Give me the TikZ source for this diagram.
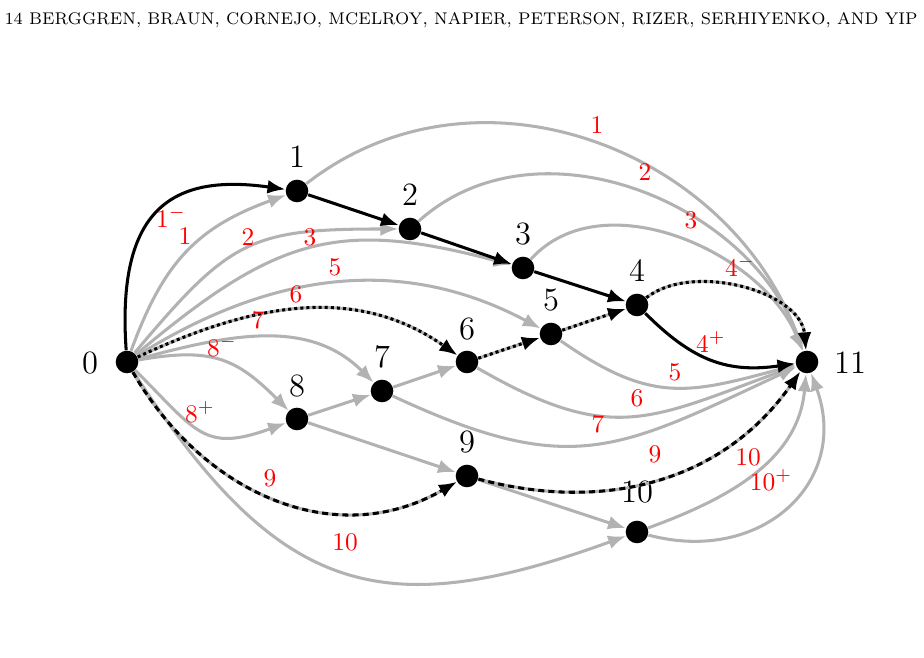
\documentclass[tikz,border=0pt]{standalone}
\usetikzlibrary{arrows.meta}
\begin{document}
\begin{tikzpicture}[x=0.3937pt,y=0.3937pt,
  vtx/.style={circle,fill=black,inner sep=0pt,minimum size=8.9pt},
  vlab/.style={font=\fontsize{12.8}{14}\selectfont,inner sep=0pt},
  elab/.style={text=red,font=\fontsize{10.3}{12}\selectfont,inner sep=0pt},
  tip/.style={-{Latex[length=7pt,width=5.5pt]}},
  ge/.style={draw=black!30,line width=1.2pt,tip},
  be/.style={draw=black,line width=1.2pt,tip},
  dote/.style={draw=black,line width=1.2pt,dash pattern=on 1.2pt off 1.2pt,tip},
  dashe/.style={draw=black,line width=1.2pt,dash pattern=on 2.4pt off 1.6pt,tip}]
\useasboundingbox (0,0) rectangle (924,658);
\node[anchor=west,inner sep=0pt] (hdr) at (4,638)
  {\resizebox{359.5pt}{4.75pt}{\fontsize{7}{8}\selectfont 14 BERGGREN, BRAUN, CORNEJO, MCELROY, NAPIER, PETERSON, RIZER, SERHIYENKO, AND YIP}};
% vertices
\node[vtx] (0) at (127,296) {};
\node[vtx] (1) at (297,467) {};
\node[vtx] (2) at (410,429) {};
\node[vtx] (3) at (523,390) {};
\node[vtx] (4) at (637,353) {};
\node[vtx] (5) at (551,324) {};
\node[vtx] (6) at (467,296) {};
\node[vtx] (7) at (382,267) {};
\node[vtx] (8) at (297,239) {};
\node[vtx] (9) at (467,182) {};
\node[vtx] (10) at (637,126) {};
\node[vtx] (11) at (807,296) {};
% vertex labels
\node[vlab] (l0) at (90,295) {0};
\node[vlab] (l1) at (297,501) {1};
\node[vlab] (l2) at (410,463) {2};
\node[vlab] (l3) at (523,424) {3};
\node[vlab] (l4) at (637,387) {4};
\node[vlab] (l5) at (551,358) {5};
\node[vlab] (l6) at (467,329) {6};
\node[vlab] (l7) at (382,301) {7};
\node[vlab] (l8) at (297,272) {8};
\node[vlab] (l9) at (467,216) {9};
\node[vlab] (l10) at (637,166) {10};
\node[vlab] (l11) at (850,295) {11};
% gray edges
\draw[ge] (0) to[out=70,in=200,looseness=1.1] (1);
\draw[ge] (0) to[out=50,in=180,looseness=1.3] (2);
\draw[ge] (0) to[out=40,in=165,looseness=1.2] (3);
\draw[ge] (0) to[out=32,in=152,looseness=1.0] (5);
\draw[ge] (0) to[out=25,in=145,looseness=1.0] (6);
\draw[ge] (0) to[out=15,in=135] (7);
\draw[ge] (0) to[out=10,in=135,looseness=1.2] (8);
\draw[ge] (0) to[out=-45,in=200,looseness=1.4] (8);
\draw[ge] (0) to[out=-60,in=210,looseness=1.05] (9);
\draw[ge] (0) to[out=-57,in=200,looseness=1.3] (10);
\draw[ge] (8) -- (7);
\draw[ge] (7) -- (6);
\draw[ge] (6) -- (5);
\draw[ge] (5) -- (4);
\draw[ge] (8) -- (9);
\draw[ge] (9) -- (10);
\draw[ge] (1) to[out=38,in=110,looseness=1.05] (11);
\draw[ge] (2) to[out=42,in=110,looseness=1.0] (11);
\draw[ge] (3) to[out=48,in=112,looseness=0.95] (11);
\draw[ge] (4) to[out=38,in=95,looseness=0.9] (11);
\draw[ge] (5) to[out=-35,in=195,looseness=1.2] (11);
\draw[ge] (6) to[out=-30,in=200,looseness=1.25] (11);
\draw[ge] (7) to[out=-25,in=205,looseness=1.25] (11);
\draw[ge] (9) to[out=-15,in=235] (11);
\draw[ge] (10) to[out=20,in=265] (11);
\draw[ge] (10) to[out=-15,in=290,looseness=1.3] (11);
% black solid edges
\draw[be] (0) .. controls +(94:155) and +(172:125) .. (1);
\draw[be] (1) -- (2);
\draw[be] (2) -- (3);
\draw[be] (3) -- (4);
\draw[be] (4) to[out=-45,in=188,looseness=1.1] (11);
% dotted and dashed edges
\draw[dote] (0) to[out=25,in=145,looseness=1.0] (6);
\draw[dote] (6) -- (5);
\draw[dote] (5) -- (4);
\draw[dote] (4) to[out=38,in=95,looseness=0.9] (11);
\draw[dashe] (0) to[out=-60,in=210,looseness=1.05] (9);
\draw[dashe] (9) to[out=-15,in=235] (11);
% edge labels
\node[elab] (a1m) at (171,441) {$1^-$};
\node[elab] (a1) at (185,422) {$1$};
\node[elab] (a2) at (248,421) {$2$};
\node[elab] (a3) at (310,421) {$3$};
\node[elab] (a5) at (335,391) {$5$};
\node[elab] (a6) at (296,364) {$6$};
\node[elab] (a7) at (258,338) {$7$};
\node[elab] (a8m) at (222,312) {$8^-$};
\node[elab] (a8p) at (200,246) {$8^+$};
\node[elab] (a9) at (270,180) {$9$};
\node[elab] (a10) at (345,116) {$10$};
\node[elab] (b1) at (597,533) {$1$};
\node[elab] (b2) at (645,486) {$2$};
\node[elab] (b3) at (691,438) {$3$};
\node[elab] (b4m) at (740,392) {$4^-$};
\node[elab] (b4p) at (711,316) {$4^+$};
\node[elab] (b5) at (675,286) {$5$};
\node[elab] (b6) at (637,260) {$6$};
\node[elab] (b7) at (598,234) {$7$};
\node[elab] (b9) at (655,204) {$9$};
\node[elab] (b10) at (748,201) {$10$};
\node[elab] (b10p) at (771,178) {$10^+$};
\end{tikzpicture}
\end{document}
